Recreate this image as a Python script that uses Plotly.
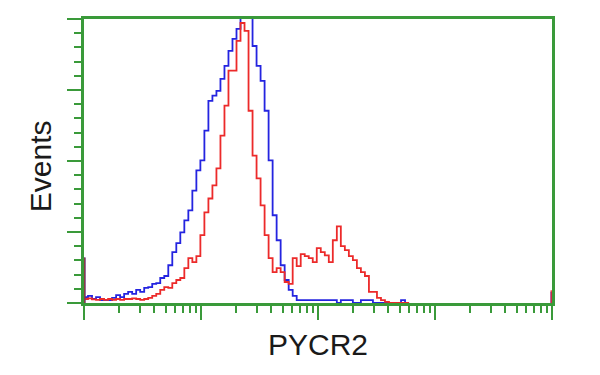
import numpy as np
import plotly.graph_objects as go

# ---------------- data ----------------
bin_width_decades = 0.0343  # histogram channel width on the log axis

blue_counts = [2.1, 2.5, 1.4, 2.1, 1, 1, 1, 1.8, 2.8, 2.1, 3.2, 3.9, 3.2, 4.6, 3.9, 5.3,
               5.6, 6.7, 7.0, 8.8, 9.5, 13.3, 17.9, 21.1, 24.9, 29.1, 32.6, 39.6, 46.7,
               50.2, 60.7, 71.2, 73, 74.7, 78.9, 83.5, 88.8, 93, 96.5, 104, 106, 101,
               90.5, 83.5, 78.2, 67.7, 50.2, 30.9, 22.1, 13.3, 8.1, 4.6, 2.5, 1, 1, 1,
               1, 1, 1, 1, 1, 1, 1, 0, 1, 1, 1, 0, 0, 1, 1, 1, 0, 0, 0, 0, 0, 0, 0, 1, 0]

red_counts = [1.4, 1.6, 1.3, 1.1, 1.4, 1.1, 1.4, 1.1, 1.4, 1.1, 1.4, 1.4, 1.6, 1.4, 1.1, 1.4,
              1.8, 2.5, 3.2, 4.6, 5.6, 5.3, 7.0, 8.1, 8.8, 12.3, 15.8, 14.4, 16.5, 23.9,
              31.9, 36.8, 41.4, 47.4, 58.9, 69.5, 81.8, 81.8, 92.3, 98.6, 95.8, 67.7,
              51.9, 43.9, 34.4, 23.9, 15.8, 10.9, 12.3, 10.9, 7.4, 6.7, 15.8, 13, 17.2,
              16.5, 15.8, 14.4, 19.3, 17.9, 16.8, 14.4, 22.1, 27, 20, 18.6, 16.5, 15.1,
              12.3, 10.9, 9.5, 3.9, 3.9, 1.8, 1, 0.4, 0, 0, 0, 0, 0]

offscale_low = {"blue": 16, "red": 16}    # events piled in first channel
offscale_high = {"blue": 4, "red": 4.5}   # events piled in last channel

x_title = "PYCR2"
y_title = "Events"

major_x = [1, 10, 100, 1000, 10000]
minor_x = [m * d for d in [1, 10, 100, 1000] for m in range(2, 10)]
major_y = [0, 25, 50, 75, 100]
minor_y = list(range(0, 101, 5))

# ---------------- style ----------------
GREEN = "#3a9a3a"
BLUE = "#2424e0"
RED = "#ec2a2a"
FONT = "Liberation Sans, Arial, sans-serif"


def steps(counts):
    n = len(counts)
    x = 10 ** (np.arange(n + 1) * bin_width_decades)
    y = list(counts) + [counts[-1]]
    return x, y


fig = go.Figure()

bx, by = steps(blue_counts)
rx, ry = steps(red_counts)

fig.add_trace(go.Scatter(x=bx, y=by, mode="lines", line=dict(color=BLUE, width=1.8, shape="hv"),
                         showlegend=False, hoverinfo="skip"))
fig.add_trace(go.Scatter(x=rx, y=ry, mode="lines", line=dict(color=RED, width=1.8, shape="hv"),
                         showlegend=False, hoverinfo="skip"))

# off-scale piles at both ends of the axis
for name, col, op in [("blue", BLUE, 1.0), ("red", "#a0402a", 0.85)]:
    fig.add_trace(go.Scatter(x=[major_x[0], major_x[0]], y=[0, offscale_low[name]], mode="lines",
                             line=dict(color=col, width=3), opacity=op,
                             showlegend=False, hoverinfo="skip"))
    fig.add_trace(go.Scatter(x=[major_x[-1], major_x[-1]], y=[0, offscale_high[name]], mode="lines",
                             line=dict(color=col if name == "blue" else RED, width=3), opacity=op,
                             showlegend=False, hoverinfo="skip"))

fig.update_layout(
    width=600, height=375,
    margin=dict(l=84, r=48, t=19, b=72),
    paper_bgcolor="white", plot_bgcolor="white",
    showlegend=False,
    xaxis=dict(type="log", range=[0, 4], showline=True, linecolor=GREEN, linewidth=2.5,
               mirror=True, ticks="outside", tickmode="array", tickvals=major_x,
               ticklen=14, tickwidth=2, tickcolor=GREEN, showticklabels=False,
               showgrid=False, zeroline=False, layer="above traces",
               minor=dict(tickmode="array", tickvals=minor_x, ticks="outside", ticklen=7,
                          tickwidth=1.6, tickcolor=GREEN, showgrid=False)),
    yaxis=dict(range=[0, 100], showline=True, linecolor=GREEN, linewidth=2.5,
               mirror=True, ticks="outside", tickmode="array", tickvals=major_y,
               ticklen=14, tickwidth=2, tickcolor=GREEN, showticklabels=False,
               showgrid=False, zeroline=False, layer="below traces",
               minor=dict(tickmode="array", tickvals=minor_y, ticks="outside", ticklen=7,
                          tickwidth=1.6, tickcolor=GREEN, showgrid=False)),
    annotations=[
        dict(text=x_title, xref="paper", yref="paper", x=0.5, y=-0.147,
             xanchor="center", yanchor="middle", showarrow=False,
             font=dict(family=FONT, size=30, color="#1a1a1a")),
        dict(text=y_title, xref="paper", yref="paper", x=-0.0923, y=0.481,
             xanchor="center", yanchor="middle", showarrow=False, textangle=-90,
             font=dict(family=FONT, size=30, color="#1a1a1a")),
    ],
)

fig.write_html("out.html")
